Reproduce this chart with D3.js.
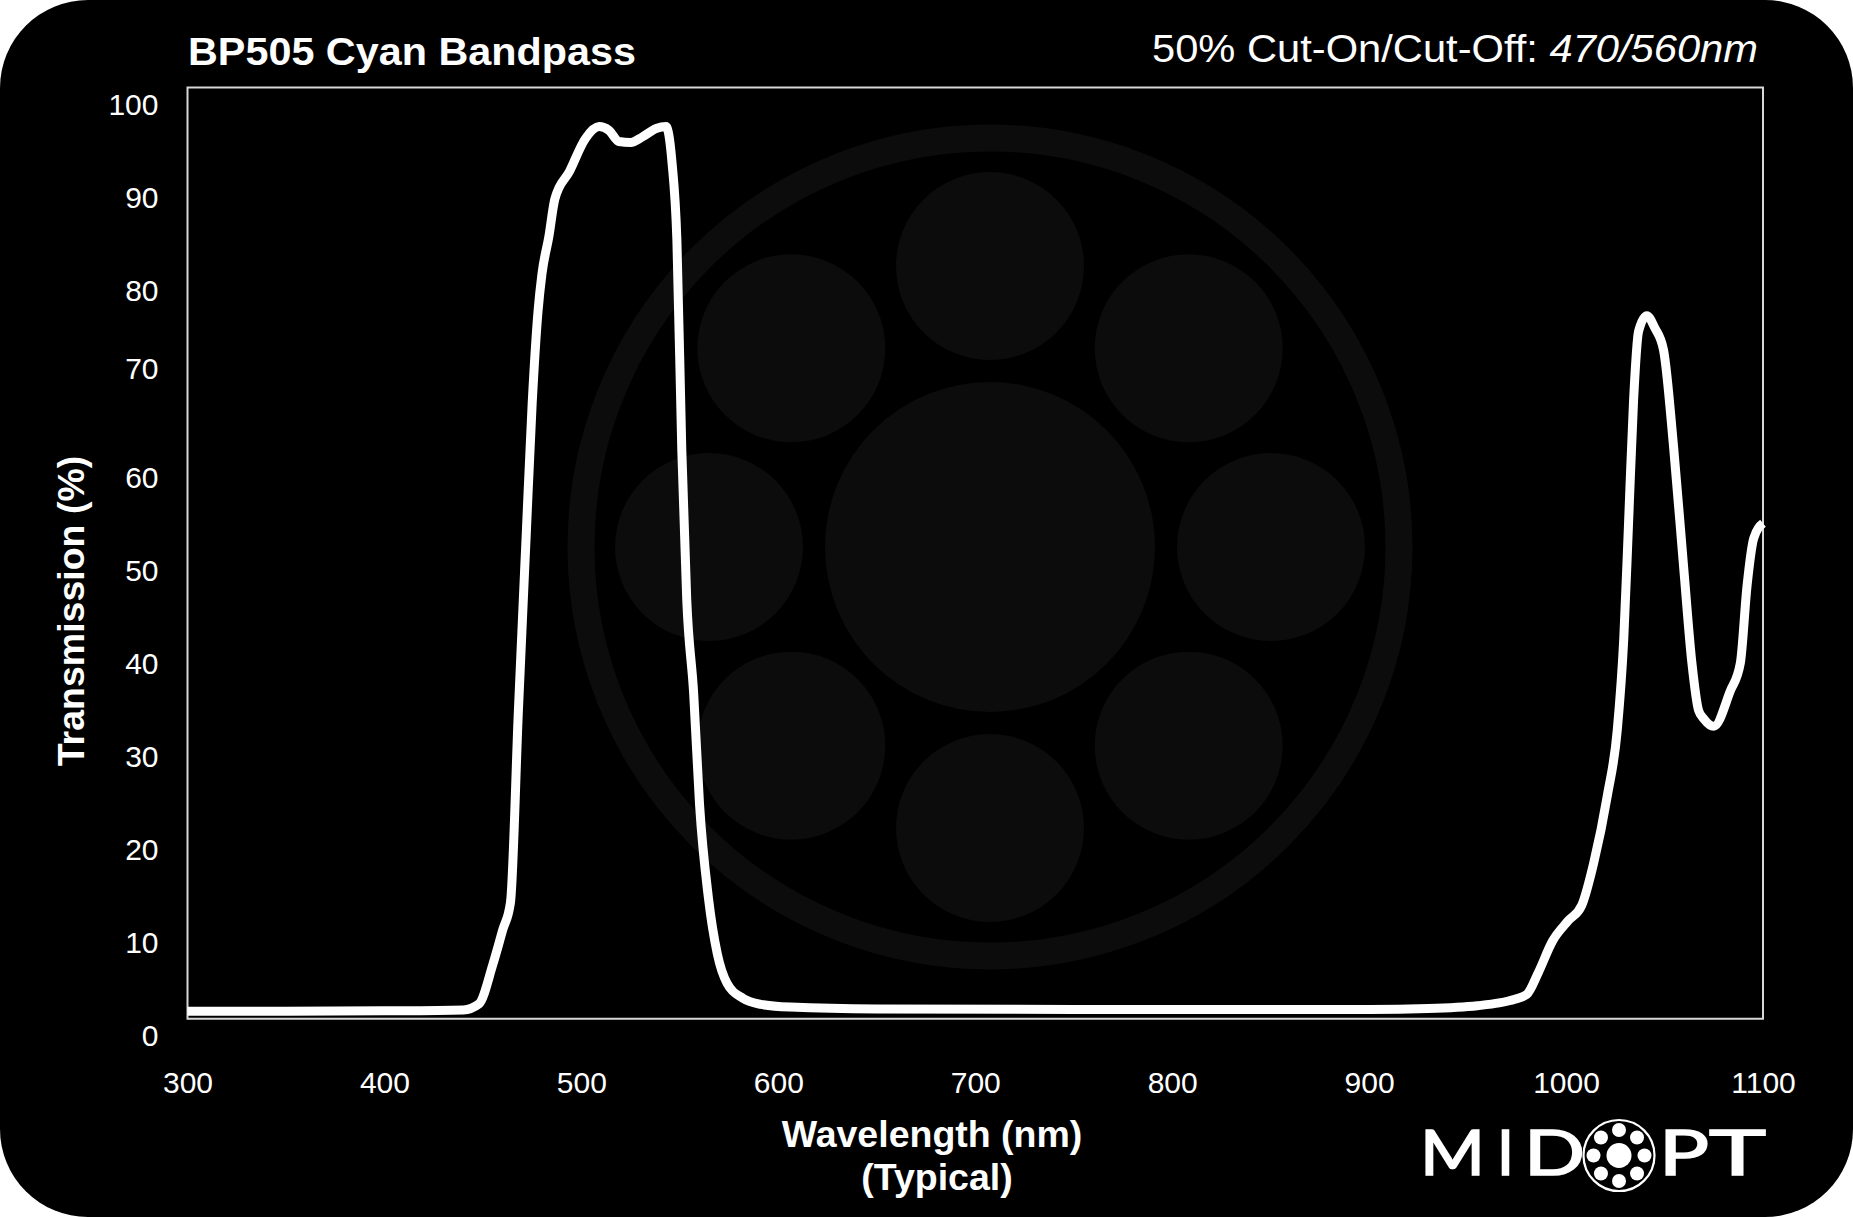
<!DOCTYPE html>
<html>
<head>
<meta charset="utf-8">
<script src="https://cdn.jsdelivr.net/npm/d3@7"></script>
<style>
  html, body { margin: 0; padding: 0; background: #fff; }
  svg { display: block; }
  text { font-family: "Liberation Sans", Arial, sans-serif; fill: #fff; }
</style>
</head>
<body>
<div id="chart"></div>
<script>
// Wavelength (nm) and transmission (%)
var wavelengths = [300, 350, 400, 440, 448, 455, 460, 464, 468, 472, 475, 478, 480, 483.5, 486.5,
  494, 502, 509, 514, 519, 525, 531, 538, 543, 546, 548.5, 551, 553.5, 557, 560, 564.5, 569, 574,
  582, 591, 606, 650, 750, 850, 900, 930, 955, 966, 974, 980, 986, 993, 1001, 1008, 1014, 1021,
  1026, 1029.3, 1031.8, 1034.3, 1036.8, 1041, 1045, 1049.5, 1054.6, 1059.7, 1063.9, 1067.3, 1070,
  1075, 1083.4, 1088.5, 1091.9, 1095.3, 1100]
var transmission = [0.8, 0.8, 0.85, 0.95, 1.6, 5.8, 9.5, 12.5, 33, 52, 66, 76, 80, 84, 88,
  91, 94.5, 95.8, 95.4, 94.2, 94.1, 94.7, 95.6, 95.8, 92, 83.6, 61, 45, 35, 23, 13, 7, 3.8,
  2.2, 1.55, 1.25, 1.05, 1.0, 1.0, 1.0, 1.1, 1.4, 1.7, 2.1, 2.6, 5, 8.3, 10.5, 12.2, 16.7, 24,
  31, 40.8, 53.6, 66.5, 73.8, 75.5, 74.2, 71.8, 61.4, 48.5, 38.2, 33.1, 32.2,
  31.4, 35.2, 38.2, 46.5, 51.6, 53.2]

var xTicks = [300, 400, 500, 600, 700, 800, 900, 1000, 1100]
var yTicks = [0, 10, 20, 30, 40, 50, 60, 70, 80, 90, 100]

var chartTitle = "BP505 Cyan Bandpass",
    cutLabel = "50% Cut-On/Cut-Off: ",
    cutValue = "470/560nm",
    xTitle = "Wavelength (nm)",
    xSubTitle = "(Typical)",
    yTitle = "Transmission (%)",
    logoLetters = ["M", "I", "D", "P", "T"]

var width = 1853,
    height = 1217,
    plot = { left: 187.5, right: 1763, top: 87.5, bottom: 1018.75 }

var svg = d3.select("#chart").append("svg")
  .attr("width", width)
  .attr("height", height)

// Card background
svg.append("rect")
  .attr("x", 0).attr("y", 0)
  .attr("width", width).attr("height", height)
  .attr("rx", 88).attr("ry", 88)
  .attr("fill", "#000")

// Faint logo watermark behind the plot
var mark = svg.append("g").attr("fill", "#0c0c0c")
var markCx = 990, markCy = 547
mark.append("circle")
  .attr("cx", markCx).attr("cy", markCy).attr("r", 409)
  .attr("fill", "none").attr("stroke", "#0c0c0c").attr("stroke-width", 27)
mark.append("circle")
  .attr("cx", markCx).attr("cy", markCy).attr("r", 165)
d3.range(8).forEach(function (i) {
  var a = i * Math.PI / 4
  mark.append("circle")
    .attr("cx", markCx + 281 * Math.sin(a))
    .attr("cy", markCy - 281 * Math.cos(a))
    .attr("r", 94)
})

var x = d3.scaleLinear().domain([300, 1100]).range([plot.left, plot.right])
var y = d3.scaleLinear().domain([0, 100]).range([plot.bottom, plot.top])

// Plot frame
svg.append("rect")
  .attr("x", plot.left).attr("y", plot.top)
  .attr("width", plot.right - plot.left)
  .attr("height", plot.bottom - plot.top)
  .attr("fill", "none")
  .attr("stroke", "#d8d8d8")
  .attr("stroke-width", 2)

// Axes (labels only)
var xAxis = svg.append("g")
  .attr("transform", "translate(0," + plot.bottom + ")")
  .call(d3.axisBottom(x).tickValues(xTicks).tickSize(0).tickPadding(52.5).tickFormat(d3.format("d")))
var yAxis = svg.append("g")
  .attr("transform", "translate(" + plot.left + ",0)")
  .call(d3.axisLeft(y).tickValues(yTicks).tickSize(0).tickPadding(29).tickFormat(d3.format("d")))
;[xAxis, yAxis].forEach(function (ax) {
  ax.select(".domain").remove()
  ax.selectAll("text")
    .attr("fill", "#fff")
    .style("font-family", "'Liberation Sans', Arial, sans-serif")
    .style("font-size", "30px")
})
// the "70" label sits a little high in the original
yAxis.selectAll("text").attr("dy", function (d) { return d === 70 ? "0.4em" : "0.9em" })

// Curve
var points = wavelengths.map(function (w, i) { return [w, transmission[i]] })
var line = d3.line()
  .x(function (d) { return x(d[0]) })
  .y(function (d) { return y(d[1]) })
  .curve(d3.curveMonotoneX)
svg.append("path")
  .datum(points)
  .attr("d", line)
  .attr("fill", "none")
  .attr("stroke", "#fff")
  .attr("stroke-width", 9)
  .attr("stroke-linejoin", "round")

// Titles
svg.append("text")
  .attr("x", 188).attr("y", 65)
  .attr("textLength", 448).attr("lengthAdjust", "spacingAndGlyphs")
  .style("font-size", "39px").style("font-weight", "bold")
  .text(chartTitle)
var cut = svg.append("text")
  .attr("x", 1152).attr("y", 62)
  .attr("textLength", 606).attr("lengthAdjust", "spacingAndGlyphs")
  .style("font-size", "39px")
cut.append("tspan").text(cutLabel)
cut.append("tspan").style("font-style", "italic").text(cutValue)

svg.append("text")
  .attr("x", 932).attr("y", 1147)
  .attr("text-anchor", "middle")
  .style("font-size", "37.5px").style("font-weight", "bold")
  .text(xTitle)
svg.append("text")
  .attr("x", 937).attr("y", 1190)
  .attr("text-anchor", "middle")
  .style("font-size", "37.5px").style("font-weight", "bold")
  .text(xSubTitle)
svg.append("text")
  .attr("transform", "translate(84,611) rotate(-90)")
  .attr("text-anchor", "middle")
  .style("font-size", "37.5px").style("font-weight", "bold")
  .text(yTitle)

// MIDOPT logo: wide geometric letters, each stretched to its slot
var logo = svg.append("g")
var letterLeft = [1420, 1497, 1524, 1659, 1709],
    letterWidth = [65, 17, 61, 50, 57]
logoLetters.forEach(function (ch, i) {
  logo.append("text")
    .attr("x", letterLeft[i]).attr("y", 1175)
    .attr("textLength", letterWidth[i]).attr("lengthAdjust", "spacingAndGlyphs")
    .attr("stroke", "#fff").attr("stroke-width", 1.6)
    .style("font-family", "Lato, 'DejaVu Sans', sans-serif")
    .style("font-size", "61px").style("font-weight", "400")
    .text(ch)
})
var lcx = 1619, lcy = 1155.5
logo.append("circle")
  .attr("cx", lcx).attr("cy", lcy).attr("r", 35.5)
  .attr("fill", "none").attr("stroke", "#fff").attr("stroke-width", 2.2)
logo.append("circle")
  .attr("cx", lcx).attr("cy", lcy).attr("r", 12.5)
  .attr("fill", "#fff")
d3.range(8).forEach(function (i) {
  var a = i * Math.PI / 4
  logo.append("circle")
    .attr("cx", lcx + 25.5 * Math.sin(a))
    .attr("cy", lcy - 25.5 * Math.cos(a))
    .attr("r", 7)
    .attr("fill", "#fff")
})
</script>
</body>
</html>
